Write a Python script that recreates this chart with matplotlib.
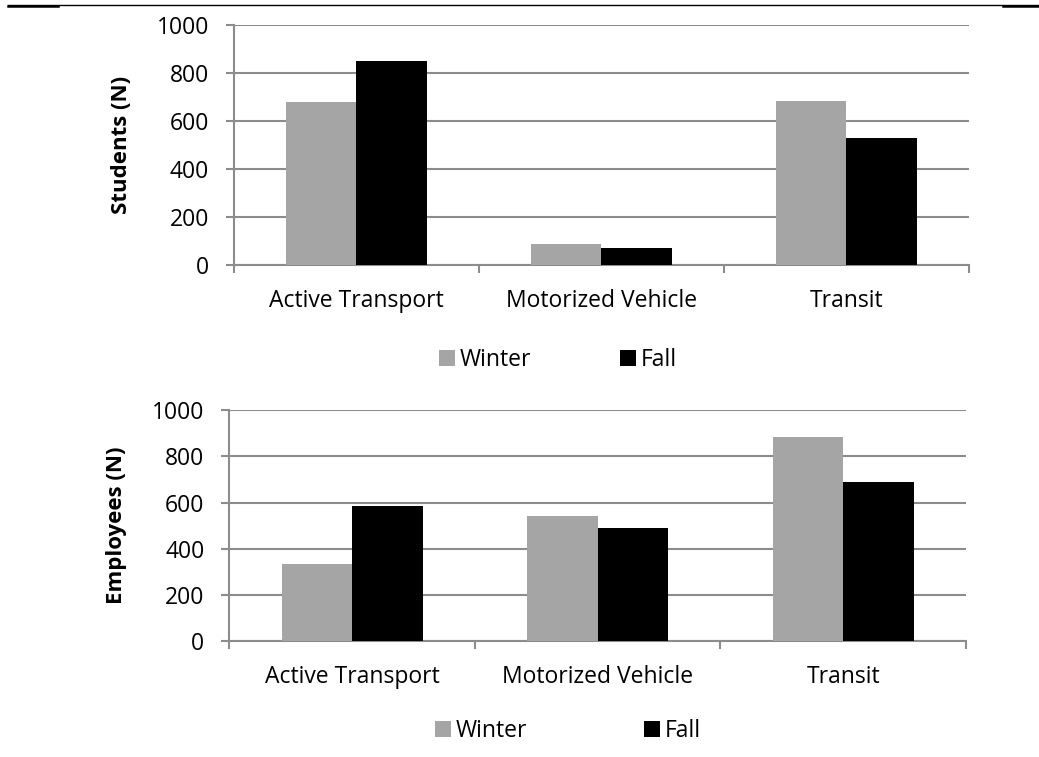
import matplotlib.pyplot as plt
from matplotlib.patches import Patch
from matplotlib.lines import Line2D
import numpy as np

plt.rcParams['font.family'] = ['Open Sans', 'DejaVu Sans']

categories = ['Active Transport', 'Motorized Vehicle', 'Transit']
seasons = ['Winter', 'Fall']
students_winter = [678, 87, 682]
students_fall = [850, 72, 527]
employees_winter = [334, 542, 885]
employees_fall = [585, 490, 689]

WINTER_COLOR = '#a5a5a5'
FALL_COLOR = '#000000'
GRID_COLOR = '#8c8c8c'
FS = 16.5


def draw_panel(ax, winter, fall, ylabel):
    x = np.arange(len(categories))
    w = 0.287
    ax.bar(x - w / 2, winter, w, color=WINTER_COLOR, zorder=3)
    ax.bar(x + w / 2, fall, w, color=FALL_COLOR, zorder=3)
    ax.set_xlim(-0.5, len(categories) - 0.5)
    ax.set_ylim(0, 1000)
    ax.set_yticks(range(0, 1001, 200))
    ax.yaxis.grid(True, color=GRID_COLOR, linewidth=1.5, zorder=0)
    ax.set_axisbelow(True)
    for side in ['top', 'right']:
        ax.spines[side].set_visible(False)
    for side in ['left', 'bottom']:
        ax.spines[side].set_color(GRID_COLOR)
        ax.spines[side].set_linewidth(1.5)
    # boundary ticks between categories, labels at centres
    ax.set_xticks(np.arange(-0.5, len(categories)), [''] * (len(categories) + 1))
    ax.set_xticks(x, categories, minor=True)
    ax.tick_params(axis='x', which='major', direction='out', length=6,
                   width=1.5, color=GRID_COLOR)
    ax.tick_params(axis='x', which='minor', length=0, pad=17, labelsize=FS)
    ax.tick_params(axis='y', direction='out', length=6, width=1.5,
                   color=GRID_COLOR, pad=12, labelsize=FS)
    ax.set_ylabel(ylabel, fontsize=FS - 0.5, fontweight='bold', labelpad=18)


fig = plt.figure(figsize=(10.39, 7.57), dpi=100)
ax1 = fig.add_axes([0.2252, 0.6499, 0.7074, 0.3175])
ax2 = fig.add_axes([0.2207, 0.1528, 0.7090, 0.3056])

draw_panel(ax1, students_winter, students_fall, 'Students (N)')
draw_panel(ax2, employees_winter, employees_fall, 'Employees (N)')

handles = [Patch(facecolor=WINTER_COLOR), Patch(facecolor=FALL_COLOR)]
for anchor, spacing in [((0.537, 0.524), 3.9), ((0.547, 0.034), 5.1)]:
    fig.legend(handles, seasons, loc='center', bbox_to_anchor=anchor,
               ncol=2, frameon=False, fontsize=FS, handlelength=0.7,
               handleheight=0.7, handletextpad=0.2, columnspacing=spacing)

# page header rule
fig.add_artist(Line2D([8 / 1039, 1.0], [1 - 5 / 757] * 2,
                      transform=fig.transFigure, color='black', linewidth=1))
fig.add_artist(Line2D([8 / 1039, 58 / 1039], [1 - 5.5 / 757] * 2,
                      transform=fig.transFigure, color='black', linewidth=1.8))
fig.add_artist(Line2D([1003 / 1039, 1.0], [1 - 5.5 / 757] * 2,
                      transform=fig.transFigure, color='black', linewidth=1.8))

fig.savefig('out.png', dpi=100)
